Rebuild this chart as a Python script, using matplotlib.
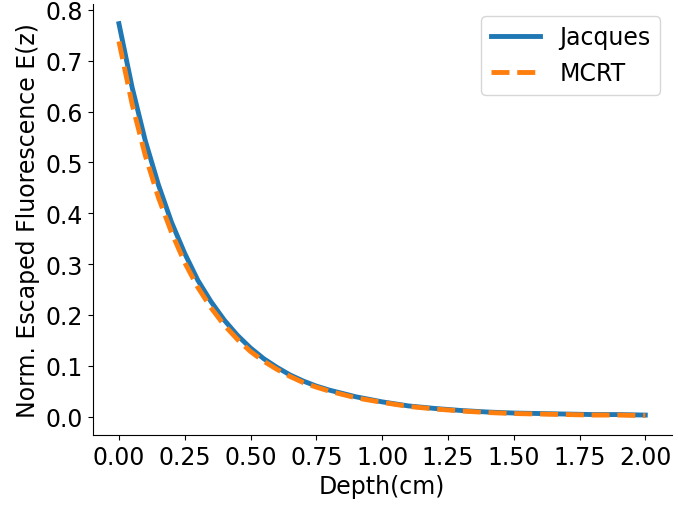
import numpy as np
import matplotlib
matplotlib.use("Agg")
import matplotlib.pyplot as plt

# depth grid (cm) and escaped fluorescence
depth = [0.00, 0.05, 0.10, 0.15, 0.20, 0.25, 0.30, 0.35, 0.40, 0.45, 0.50,
         0.55, 0.60, 0.65, 0.70, 0.75, 0.80, 0.90, 1.00, 1.10, 1.20, 1.30,
         1.40, 1.50, 1.60, 1.70, 1.80, 1.90, 2.00]
jacques = [0.773, 0.648, 0.543, 0.456, 0.382, 0.321, 0.268, 0.226, 0.190, 0.160, 0.135,
           0.114, 0.097, 0.082, 0.070, 0.060, 0.052, 0.039, 0.029, 0.021, 0.016, 0.012,
           0.009, 0.007, 0.006, 0.005, 0.004, 0.004, 0.003]
mcrt = [0.738, 0.615, 0.514, 0.431, 0.362, 0.303, 0.254, 0.214, 0.180, 0.152, 0.128,
        0.109, 0.093, 0.079, 0.067, 0.058, 0.050, 0.037, 0.028, 0.020, 0.015, 0.011,
        0.008, 0.006, 0.005, 0.004, 0.003, 0.003, 0.002]

plt.rcParams['font.size'] = 17

fig = plt.figure(figsize=(6.78, 5.06), dpi=100)
ax = fig.add_axes([0.1366, 0.138, 0.854, 0.852])

ax.plot(depth, jacques, color='#1f77b4', lw=3.5, label='Jacques')
ax.plot(depth, mcrt, color='#ff7f0e', lw=3.5, ls='--', label='MCRT')

ax.set_xlabel('Depth(cm)')
ax.set_ylabel('Norm. Escaped Fluorescence E(z)')
ax.set_xticks(np.arange(0, 2.01, 0.25))
ax.set_yticks(np.arange(0, 0.81, 0.1))
ax.spines['top'].set_visible(False)
ax.spines['right'].set_visible(False)
ax.legend(loc='upper right', handlelength=2.1)

fig.savefig('out.png', dpi=100)
